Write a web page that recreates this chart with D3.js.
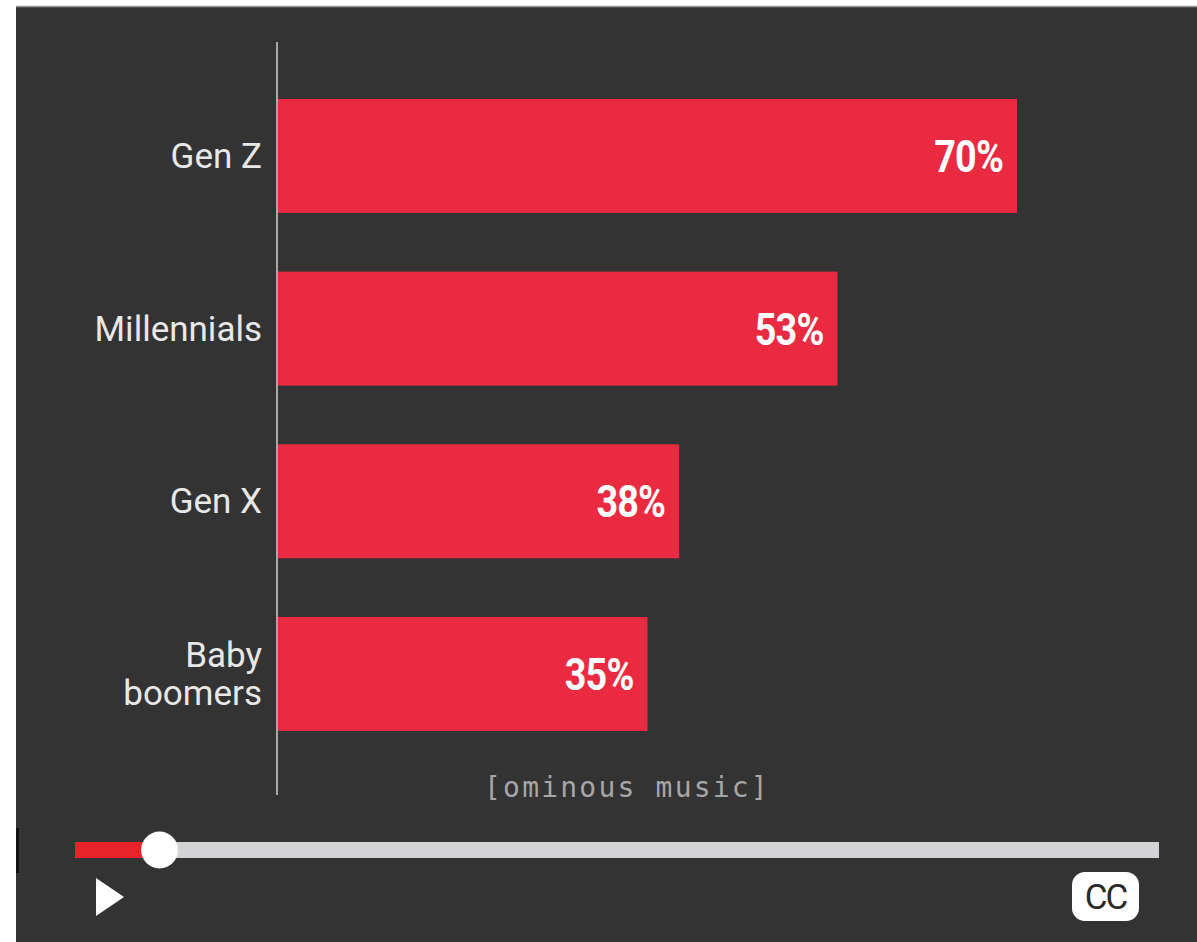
<!DOCTYPE html>
<html>
<head>
<meta charset="utf-8">
<script src="https://cdn.jsdelivr.net/npm/d3@7"></script>
<style>
  html, body { margin: 0; padding: 0; background: #fff; }
  svg { display: block; }
</style>
</head>
<body>
<div id="chart"></div>
<script>
// data
const generations = ["Gen Z", "Millennials", "Gen X", "Baby boomers"];
const shares = [70, 53, 38, 35];
const labelLines = [["Gen Z"], ["Millennials"], ["Gen X"], ["Baby", "boomers"]];
const caption = "[ominous music]";
const progress = [0, 0.078]; // played share of the video

const W = 1197, H = 942;

const svg = d3.select("#chart").append("svg")
  .attr("width", W)
  .attr("height", H);

// dark player panel
svg.append("rect")
  .attr("x", 16).attr("y", 7)
  .attr("width", W - 16).attr("height", H - 7)
  .attr("fill", "#333333");
svg.append("line")
  .attr("x1", 16).attr("x2", W).attr("y1", 6.5).attr("y2", 6.5)
  .attr("stroke", "#9a9a9a").attr("stroke-width", 1.5);
svg.append("rect")
  .attr("x", 16).attr("y", 828).attr("width", 3).attr("height", 45)
  .attr("fill", "#111");

const x = d3.scaleLinear()
  .domain([0, 70])
  .range([278, 1017]);

const y = d3.scaleBand()
  .domain(generations)
  .range([69.6, 760.3])
  .paddingInner(0.34)
  .paddingOuter(0.17);

const data = generations.map((g, i) => ({gen: g, value: shares[i], lines: labelLines[i]}));

// bars
svg.append("g").selectAll("rect")
  .data(data)
  .join("rect")
  .attr("x", x(0))
  .attr("y", d => y(d.gen))
  .attr("width", d => x(d.value) - x(0))
  .attr("height", y.bandwidth())
  .attr("fill", "#e92a40");

// axis line
svg.append("line")
  .attr("x1", 277).attr("x2", 277)
  .attr("y1", 42).attr("y2", 795)
  .attr("stroke", "#a8a8a8")
  .attr("stroke-width", 2);

// category labels
const cat = svg.append("g").selectAll("text")
  .data(data)
  .join("text")
  .attr("text-anchor", "end")
  .attr("font-family", "Roboto, 'Noto Sans', sans-serif")
  .attr("font-size", 35)
  .attr("fill", "#e8e8e8")
  .attr("y", d => y(d.gen) + y.bandwidth() / 2);

cat.selectAll("tspan")
  .data(d => d.lines.map((t, j) => ({t, j, n: d.lines.length})))
  .join("tspan")
  .attr("x", 262)
  .attr("dy", d => d.j === 0 ? (12 - (d.n - 1) * 19) + "px" : "38px")
  .text(d => d.t);

// value labels (squeezed to look condensed)
svg.append("g").selectAll("text")
  .data(data)
  .join("text")
  .attr("transform", d => `translate(${x(d.value) - 14},${y(d.gen) + y.bandwidth() / 2 + 16}) scale(0.84,1)`)
  .attr("text-anchor", "end")
  .attr("font-family", "Roboto, sans-serif")
  .attr("font-weight", "bold")
  .attr("font-size", 45)
  .attr("letter-spacing", "-1px")
  .attr("fill", "#ffffff")
  .text(d => d.value + "%");

// caption
svg.append("text")
  .attr("x", 627)
  .attr("y", 797)
  .attr("text-anchor", "middle")
  .attr("font-family", "'DejaVu Sans Mono', 'Liberation Mono', monospace")
  .attr("font-size", 28)
  .attr("letter-spacing", "2.2px")
  .attr("fill", "#a6a6a6")
  .text(caption);

// player controls
const p = d3.scaleLinear().domain([0, 1]).range([75, 1159]);
svg.append("rect")
  .attr("x", p(0)).attr("y", 842)
  .attr("width", p(1) - p(0)).attr("height", 16)
  .attr("fill", "#d3d3d5");
svg.append("rect")
  .attr("x", p(progress[0])).attr("y", 842)
  .attr("width", p(progress[1]) - p(progress[0])).attr("height", 16)
  .attr("fill", "#e8242a");
svg.append("circle")
  .attr("cx", p(progress[1])).attr("cy", 850)
  .attr("r", 18.5)
  .attr("fill", "#ffffff");

svg.append("path")
  .attr("d", d3.line()([[96, 878], [124, 897], [96, 916]]) + "Z")
  .attr("fill", "#ffffff");

svg.append("rect")
  .attr("x", 1072).attr("y", 872)
  .attr("width", 67).attr("height", 49)
  .attr("rx", 13)
  .attr("fill", "#ffffff");
svg.append("text")
  .attr("x", 1105.5).attr("y", 909)
  .attr("text-anchor", "middle")
  .attr("font-family", "Roboto, sans-serif")
  .attr("font-size", 35)
  .attr("letter-spacing", "-2px")
  .attr("fill", "#2a2a2a")
  .text("CC");
</script>
</body>
</html>
